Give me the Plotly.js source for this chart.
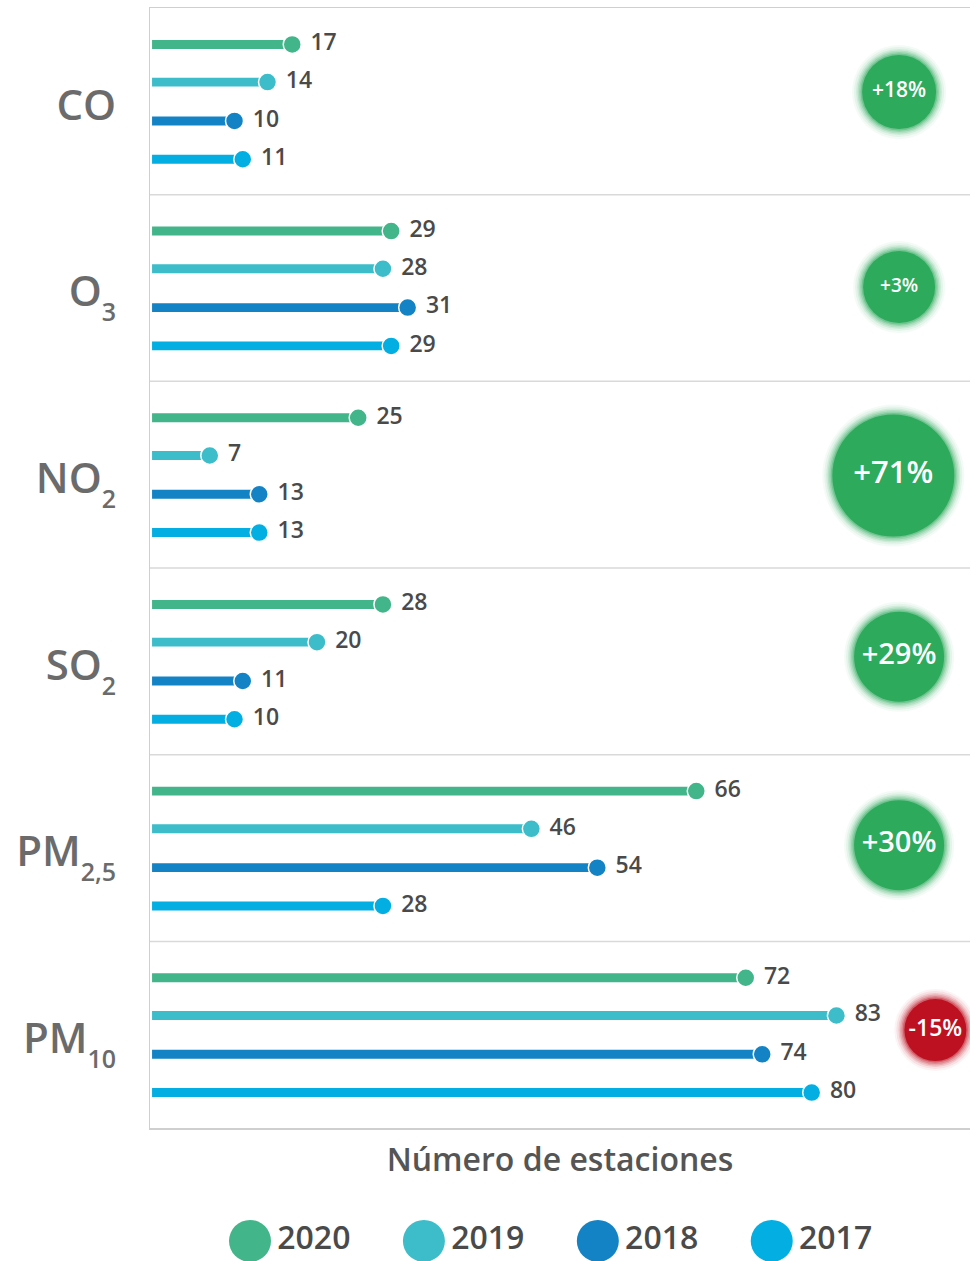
<!DOCTYPE html>
<html><head><meta charset="utf-8">
<script src="https://cdn.plot.ly/plotly-3.0.1.min.js"></script>
<style>html,body{margin:0;padding:0;background:#fff}#chart{width:970px;height:1261px}</style>
</head><body><div id="chart"></div>
<script>
// ---- data ----
const groupNames = ['CO', 'O', 'NO', 'SO', 'PM', 'PM'];
const groupSubs = ['', '3', '2', '2', '2,5', '10'];
const years = ['2020', '2019', '2018', '2017'];
const v2020 = [17, 29, 25, 28, 66, 72];
const v2019 = [14, 28, 7, 20, 46, 83];
const v2018 = [10, 31, 13, 11, 54, 74];
const v2017 = [11, 29, 13, 10, 28, 80];
const changeLabels = ['+18%', '+3%', '+71%', '+29%', '+30%', '-15%'];
const changeValues = [18, 3, 71, 29, 30, -15];

// ---- styling / layout config ----
const groupLabels = groupNames.map((n, i) => groupSubs[i] ?
  n + '<sub><sub><span style="font-size:25px">' + groupSubs[i] + '</span></sub></sub>' : n);
const seriesValues = [v2020, v2019, v2018, v2017];
const colors = ['#43B58A', '#3DBDC9', '#1383C5', '#02AEE2'];
const slotOffsets = [0.195, 0.397, 0.605, 0.81];
const badgeX = [90.6, 90.6, 89.9, 90.6, 90.6, 95.0];
const badgeYOff = [0.45, 0.495, 0.505, 0.475, 0.485, 0.475];
const badgeSize = [74, 72, 122, 90, 90, 62];
const badgeFont = [21, 19, 31, 29, 29, 23];
const nG = groupLabels.length;
const FONT = 'Open Sans';

const traces = [];
seriesValues.forEach((vals, j) => {
  const ys = vals.map((v, g) => g + slotOffsets[j]);
  traces.push({
    type: 'bar', orientation: 'h', x: vals, y: ys, base: 0, width: 0.048,
    marker: {color: colors[j], line: {width: 0}}, showlegend: false, hoverinfo: 'skip'
  });
});
seriesValues.forEach((vals, j) => {
  const ys = vals.map((v, g) => g + slotOffsets[j]);
  traces.push({
    type: 'scatter', mode: 'markers+text', x: vals, y: ys,
    text: vals.map(v => ' ' + v), textposition: 'middle right',
    textfont: {family: FONT, size: 23, color: '#4a4a4a', weight: 600},
    marker: {size: 18, color: colors[j], line: {color: '#ffffff', width: 1.5}},
    cliponaxis: false, showlegend: false, hoverinfo: 'skip'
  });
});
// badges with soft edges
const layers = [
  {pad: 20, op: 0.05}, {pad: 16, op: 0.08}, {pad: 12, op: 0.12}, {pad: 9, op: 0.16},
  {pad: 6, op: 0.22}, {pad: 3, op: 0.35}, {pad: 0, op: 1}
];
const badgeColors = changeValues.map(v => v >= 0 ? '#2EAA5C' : '#BD1121');
const badgeY = badgeYOff.map((o, g) => g + o);
layers.forEach(L => {
  traces.push({
    type: 'scatter', mode: 'markers', x: badgeX, y: badgeY,
    marker: {size: badgeSize.map(s => s + L.pad), color: badgeColors, opacity: L.op, line: {width: 0}},
    cliponaxis: true, showlegend: false, hoverinfo: 'skip'
  });
});
traces.push({
  type: 'scatter', mode: 'text', x: badgeX, y: badgeY, text: changeLabels,
  textfont: {family: FONT, size: badgeFont, color: '#ffffff', weight: 600},
  cliponaxis: false, showlegend: false, hoverinfo: 'skip'
});
// custom legend
traces.push({
  type: 'scatter', mode: 'markers+text', xaxis: 'x2', yaxis: 'y2',
  x: years.map((y, i) => i), y: years.map(() => 0), text: years,
  textposition: 'middle right',
  textfont: {family: FONT, size: 32, color: '#4a4a4a', weight: 600},
  marker: {size: 42, color: colors}, cliponaxis: false, showlegend: false, hoverinfo: 'skip'
});

const shapes = [];
for (let g = 1; g < nG; g++) {
  shapes.push({type: 'line', xref: 'paper', x0: 0, x1: 1, yref: 'y', y0: g, y1: g,
    line: {color: '#d9d9d9', width: 1.5}, layer: 'below'});
}

const layout = {
  width: 970, height: 1261,
  margin: {l: 150, r: 0, t: 8, b: 0, pad: 0},
  paper_bgcolor: '#ffffff', plot_bgcolor: '#ffffff',
  showlegend: false, barmode: 'overlay',
  xaxis: {
    domain: [0, 1], range: [-0.25, 99.2], showgrid: false, zeroline: false,
    showticklabels: false, ticks: '', showline: true, mirror: true,
    linecolor: '#cfcfcf', linewidth: 1.5, fixedrange: true,
    title: {text: 'Número de estaciones', font: {family: FONT, size: 32, color: '#555555', weight: 600}, standoff: 20}
  },
  yaxis: {
    domain: [0.1061, 1], range: [nG, 0], showgrid: false, zeroline: false,
    tickvals: groupLabels.map((l, g) => g + 0.52), ticktext: groupLabels,
    tickfont: {family: FONT, size: 42, color: '#6b6b6b', weight: 600},
    ticks: '', ticklabelstandoff: 24, showline: true, linecolor: '#cfcfcf', linewidth: 1.5, fixedrange: true
  },
  xaxis2: {domain: [0, 1], anchor: 'y2', range: [-0.575, 4.14], visible: false, fixedrange: true},
  yaxis2: {domain: [0, 0.032], anchor: 'x2', range: [-1, 1], visible: false, fixedrange: true},
  shapes: shapes
};
Plotly.newPlot('chart', traces, layout, {staticPlot: true, displayModeBar: false});
</script></body></html>
